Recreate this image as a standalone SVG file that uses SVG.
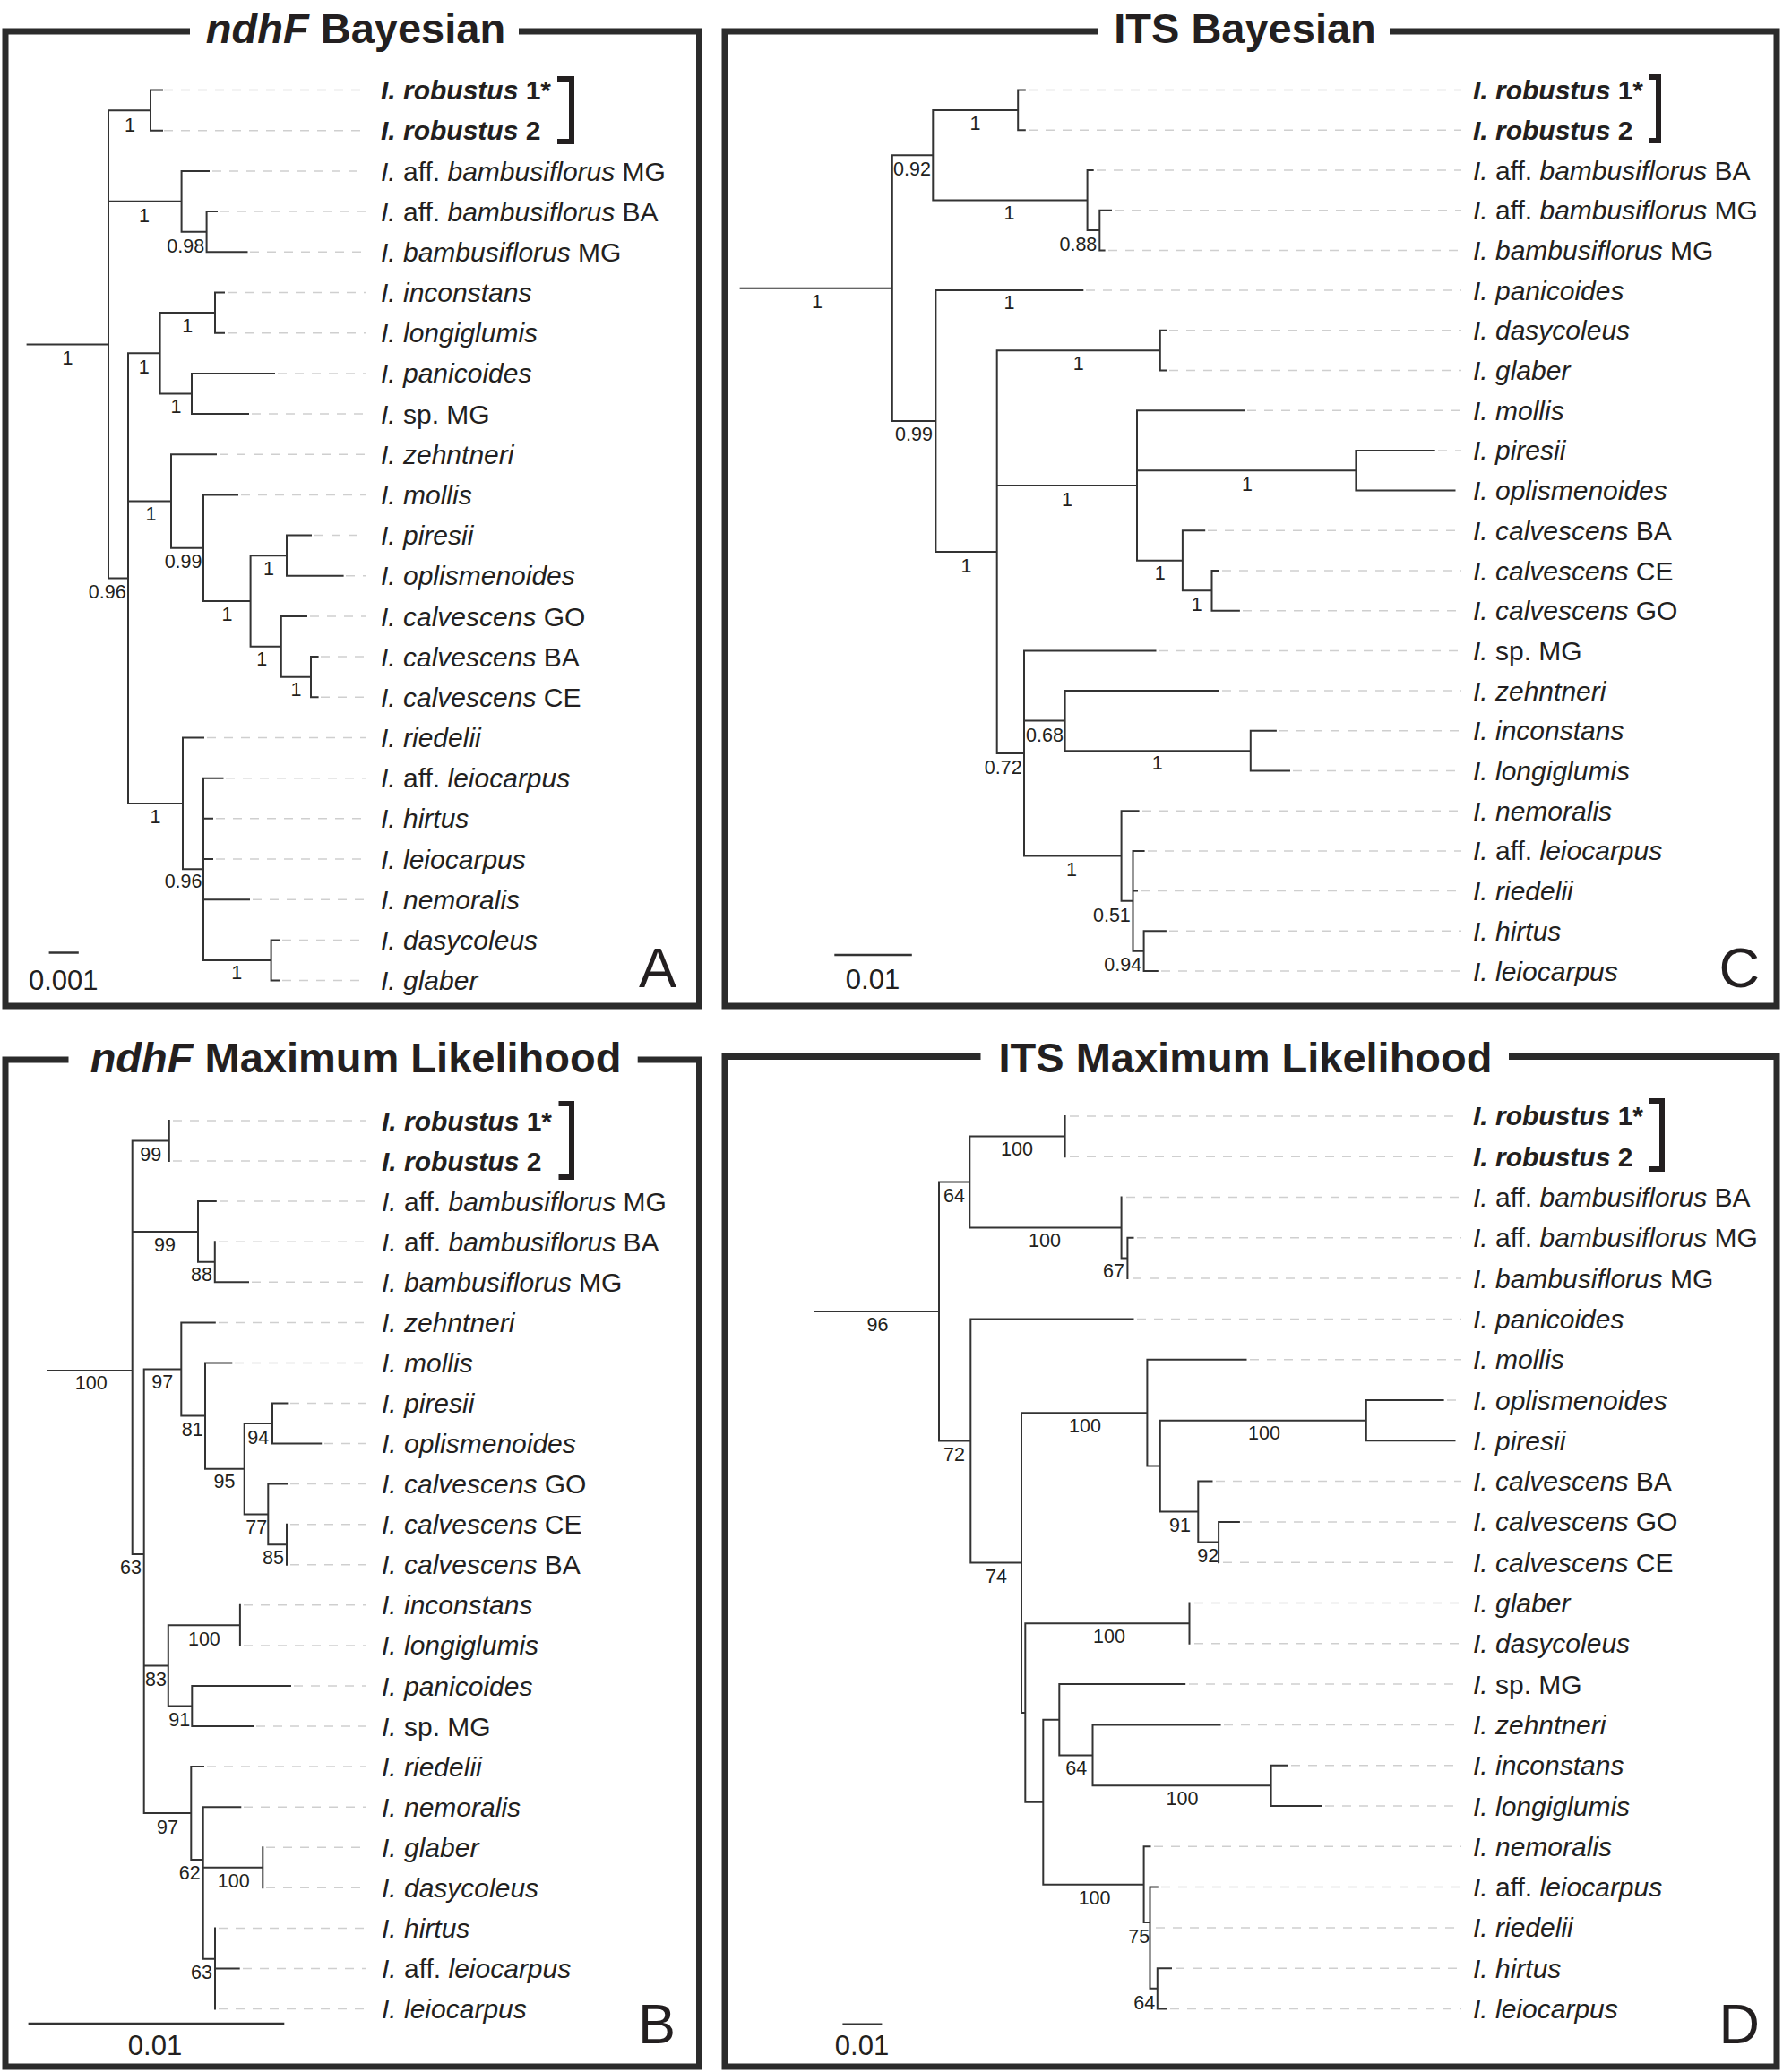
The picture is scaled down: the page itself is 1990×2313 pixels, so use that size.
<svg xmlns="http://www.w3.org/2000/svg" width="1990" height="2313" viewBox="0 0 1990 2313">
<style>
text { font-family: "Liberation Sans", Arial, Helvetica, sans-serif; fill: #231f20; }
.ttl { font-size: 47px; font-weight: bold; text-anchor: middle; }
.lb { font-size: 30px; }
.b { font-weight: bold; }
.i { font-style: italic; }
.sp { font-size: 21.5px; text-anchor: middle; }
.sc { font-size: 31px; text-anchor: middle; }
.let { font-size: 63px; text-anchor: middle; }
.frame { fill: none; stroke: #2b2b2b; stroke-width: 7; stroke-linejoin: miter; }
.br { fill: none; stroke: #231f20; stroke-width: 6; }
.tree { fill: none; stroke: #333; stroke-width: 2; stroke-linecap: square; }
.lead { fill: none; stroke: #cfcfcf; stroke-width: 1.5; stroke-dasharray: 10 9; }
.bar { fill: none; stroke: #333; stroke-width: 2.5; }
</style>
<rect x="0" y="0" width="1990" height="2313" fill="#fff"/>

<!-- ================= PANEL A ================= -->
<g id="panelA">
<path class="frame" d="M212,35 H6 V1123 H780.5 V35 H579"/>
<text class="ttl" x="397" y="48"><tspan class="i">ndhF</tspan> Bayesian</text>
<g id="A-connectors">
<path class="lead" d="M183,100.6H408M183,145.8H408M237,191H408M246,236.1H408M279,281.3H408M254,326.5H408M254,371.7H408M310,416.9H408M281,462H408M245,507.2H408M269,552.4H408M351,597.6H408M386,642.8H408M346,688H408M358,733.1H408M358,778.3H408M231,823.5H408M252,868.7H408M241,913.8H408M241,959H408M282,1004.2H408M315,1049.4H408M315,1094.6H408"/>
<path class="tree" d="M30.6,384.4H121M121,123.2V645.6
M121,123.2H168M168,100.6V145.8M168,100.6H181M168,145.8H181
M121,224.85H202.6M202.6,191V258.7M202.6,191H233M202.6,258.7H230.6M230.6,236.1V281.3M230.6,236.1H242M230.6,281.3H275.5
M121,645.6H143M143,394.3V896.9
M143,394.3H178.6M178.6,349.1V439.45M178.6,349.1H240M240,326.5V371.7M240,326.5H250M240,371.7H250M178.6,439.45H214M214,416.9V462M214,416.9H306M214,462H277
M143,559.45H191M191,507.2V611.7M191,507.2H241M191,611.7H227M227,552.4V671M227,552.4H265M227,671H279.6M279.6,620.2V721.85M279.6,620.2H320M320,597.6V642.8M320,597.6H347M320,642.8H382.6M279.6,721.85H313.8M313.8,688V755.7M313.8,688H342M313.8,755.7H347M347,733.1V778.3M347,733.1H354.6M347,778.3H354.6
M143,896.9H204M204,823.5V970.35M204,823.5H227M204,970.35H227M227,868.7V1072M227,868.7H248.5M227,913.8H237M227,959H237M227,1004.2H278M227,1072H302.6M302.6,1049.4V1094.6M302.6,1049.4H311M302.6,1094.6H311"/>
</g>
<g id="A-support">
<text class="sp" x="75.5" y="406.5">1</text>
<text class="sp" x="145" y="146.7">1</text>
<text class="sp" x="161" y="247.7">1</text>
<text class="sp" x="207.3" y="281.7">0.98</text>
<text class="sp" x="119.8" y="667.7">0.96</text>
<text class="sp" x="209.2" y="371">1</text>
<text class="sp" x="160.7" y="416.5">1</text>
<text class="sp" x="196.4" y="460.9">1</text>
<text class="sp" x="168.4" y="580.7">1</text>
<text class="sp" x="204.6" y="634.2">0.99</text>
<text class="sp" x="253.6" y="693.1">1</text>
<text class="sp" x="300" y="642.2">1</text>
<text class="sp" x="292.3" y="743.3">1</text>
<text class="sp" x="330.6" y="776.7">1</text>
<text class="sp" x="173.5" y="918.7">1</text>
<text class="sp" x="204.6" y="991.2">0.96</text>
<text class="sp" x="264.3" y="1092.7">1</text>
</g>
<g id="A-t0"><text class="lb b" x="425" y="111.1"><tspan class="i">I. robustus</tspan> 1*</text></g>
<g id="A-t1"><text class="lb b" x="425" y="156.3"><tspan class="i">I. robustus</tspan> 2</text></g>
<g id="A-t2"><text class="lb" x="425" y="201.5"><tspan class="i">I.</tspan> aff. <tspan class="i">bambusiflorus</tspan> MG</text></g>
<g id="A-t3"><text class="lb" x="425" y="246.6"><tspan class="i">I.</tspan> aff. <tspan class="i">bambusiflorus</tspan> BA</text></g>
<g id="A-t4"><text class="lb" x="425" y="291.8"><tspan class="i">I. bambusiflorus</tspan> MG</text></g>
<g id="A-t5"><text class="lb i" x="425" y="337">I. inconstans</text></g>
<g id="A-t6"><text class="lb i" x="425" y="382.2">I. longiglumis</text></g>
<g id="A-t7"><text class="lb i" x="425" y="427.4">I. panicoides</text></g>
<g id="A-t8"><text class="lb" x="425" y="472.5"><tspan class="i">I.</tspan> sp. MG</text></g>
<g id="A-t9"><text class="lb i" x="425" y="517.7">I. zehntneri</text></g>
<g id="A-t10"><text class="lb i" x="425" y="562.9">I. mollis</text></g>
<g id="A-t11"><text class="lb i" x="425" y="608.1">I. piresii</text></g>
<g id="A-t12"><text class="lb i" x="425" y="653.3">I. oplismenoides</text></g>
<g id="A-t13"><text class="lb" x="425" y="698.5"><tspan class="i">I. calvescens</tspan> GO</text></g>
<g id="A-t14"><text class="lb" x="425" y="743.6"><tspan class="i">I. calvescens</tspan> BA</text></g>
<g id="A-t15"><text class="lb" x="425" y="788.8"><tspan class="i">I. calvescens</tspan> CE</text></g>
<g id="A-t16"><text class="lb i" x="425" y="834">I. riedelii</text></g>
<g id="A-t17"><text class="lb" x="425" y="879.2"><tspan class="i">I.</tspan> aff. <tspan class="i">leiocarpus</tspan></text></g>
<g id="A-t18"><text class="lb i" x="425" y="924.3">I. hirtus</text></g>
<g id="A-t19"><text class="lb i" x="425" y="969.5">I. leiocarpus</text></g>
<g id="A-t20"><text class="lb i" x="425" y="1014.7">I. nemoralis</text></g>
<g id="A-t21"><text class="lb i" x="425" y="1059.9">I. dasycoleus</text></g>
<g id="A-t22"><text class="lb i" x="425" y="1105.1">I. glaber</text></g>
<path class="br" d="M622,88H638V158H622"/>
<path class="bar" d="M54.6,1063.5H87.8"/>
<text class="sc" x="70.8" y="1105">0.001</text>
<text class="let" x="734" y="1101.6">A</text>
</g>

<!-- ================= PANEL C ================= -->
<g id="panelC">
<path class="frame" d="M1225,35 H809 V1123 H1983 V35 H1551"/>
<text class="ttl" x="1389.5" y="48">ITS Bayesian</text>
<g id="C-connectors">
<path class="lead" d="M1148,100.6H1631M1148,145.3H1631M1224,190H1631M1244,234.7H1631M1237,279.4H1631M1212,324.1H1631M1305,368.8H1631M1305,413.5H1631M1392,458.2H1631M1605,502.9H1631M1348,592.3H1631M1364,637H1631M1387,681.7H1631M1294,726.4H1631M1364,771.1H1631M1428,815.8H1631M1443,860.5H1631M1275,905.2H1631M1281,949.9H1631M1273,994.6H1631M1305,1039.3H1631M1296,1084H1631"/>
<path class="tree" d="M826.6,321.65H995.8M995.8,173.2V470.1
M995.8,173.2H1041.3M1041.3,122.95V223.5M1041.3,122.95H1136.2M1136.2,100.6V145.3M1136.2,100.6H1143.8M1136.2,145.3H1143.8M1041.3,223.5H1213.6M1213.6,190V257.05M1213.6,190H1219.7M1213.6,257.05H1227.3M1227.3,234.7V279.4M1227.3,234.7H1240M1227.3,279.4H1232.6
M995.8,470.1H1044.4M1044.4,324.1V616.05M1044.4,324.1H1208.3M1044.4,616.05H1112.7M1112.7,391.15V840.95
M1112.7,391.15H1294.8M1294.8,368.8V413.5M1294.8,368.8H1301M1294.8,413.5H1301
M1112.7,542H1269M1269,458.2V625.8M1269,458.2H1388M1269,525.25H1513.4M1513.4,502.9V547.6M1513.4,502.9H1600.7M1513.4,547.6H1623.5M1269,625.8H1319.9M1319.9,592.3V659.35M1319.9,592.3H1344.2M1319.9,659.35H1352.5M1352.5,637V681.7M1352.5,637H1360M1352.5,681.7H1382.9
M1112.7,840.95H1143M1143,726.4V955.5M1143,726.4H1289.5M1143,804.6H1188.6M1188.6,771.1V838.15M1188.6,771.1H1360M1188.6,838.15H1395.8M1395.8,815.8V860.5M1395.8,815.8H1423.9M1395.8,860.5H1439M1143,955.5H1251.6M1251.6,905.2V1005.8M1251.6,905.2H1270.6M1251.6,1005.8H1264.5M1264.5,949.9V1061.65M1264.5,949.9H1276.6M1264.5,994.6H1269M1264.5,1061.65H1276.6M1276.6,1039.3V1084M1276.6,1039.3H1300.9M1276.6,1084H1291.8"/>
</g>
<g id="C-support">
<text class="sp" x="912" y="344.4">1</text>
<text class="sp" x="1018" y="195.7">0.92</text>
<text class="sp" x="1020" y="492.3">0.99</text>
<text class="sp" x="1088.4" y="145.3">1</text>
<text class="sp" x="1126.4" y="244.5">1</text>
<text class="sp" x="1203.4" y="280.4">0.88</text>
<text class="sp" x="1126.4" y="345.1">1</text>
<text class="sp" x="1078.5" y="638.6">1</text>
<text class="sp" x="1203.8" y="412.7">1</text>
<text class="sp" x="1190.9" y="564.5">1</text>
<text class="sp" x="1392" y="547.7">1</text>
<text class="sp" x="1294.8" y="646.7">1</text>
<text class="sp" x="1335.8" y="682.2">1</text>
<text class="sp" x="1119.8" y="863.7">0.72</text>
<text class="sp" x="1166" y="827.7">0.68</text>
<text class="sp" x="1291.8" y="858.5">1</text>
<text class="sp" x="1196" y="977.7">1</text>
<text class="sp" x="1240.9" y="1029.3">0.51</text>
<text class="sp" x="1253.3" y="1083.7">0.94</text>
</g>
<g id="C-t0"><text class="lb b" x="1644" y="111.1"><tspan class="i">I. robustus</tspan> 1*</text></g>
<g id="C-t1"><text class="lb b" x="1644" y="155.8"><tspan class="i">I. robustus</tspan> 2</text></g>
<g id="C-t2"><text class="lb" x="1644" y="200.5"><tspan class="i">I.</tspan> aff. <tspan class="i">bambusiflorus</tspan> BA</text></g>
<g id="C-t3"><text class="lb" x="1644" y="245.2"><tspan class="i">I.</tspan> aff. <tspan class="i">bambusiflorus</tspan> MG</text></g>
<g id="C-t4"><text class="lb" x="1644" y="289.9"><tspan class="i">I. bambusiflorus</tspan> MG</text></g>
<g id="C-t5"><text class="lb i" x="1644" y="334.6">I. panicoides</text></g>
<g id="C-t6"><text class="lb i" x="1644" y="379.3">I. dasycoleus</text></g>
<g id="C-t7"><text class="lb i" x="1644" y="424">I. glaber</text></g>
<g id="C-t8"><text class="lb i" x="1644" y="468.7">I. mollis</text></g>
<g id="C-t9"><text class="lb i" x="1644" y="513.4">I. piresii</text></g>
<g id="C-t10"><text class="lb i" x="1644" y="558.1">I. oplismenoides</text></g>
<g id="C-t11"><text class="lb" x="1644" y="602.8"><tspan class="i">I. calvescens</tspan> BA</text></g>
<g id="C-t12"><text class="lb" x="1644" y="647.5"><tspan class="i">I. calvescens</tspan> CE</text></g>
<g id="C-t13"><text class="lb" x="1644" y="692.2"><tspan class="i">I. calvescens</tspan> GO</text></g>
<g id="C-t14"><text class="lb" x="1644" y="736.9"><tspan class="i">I.</tspan> sp. MG</text></g>
<g id="C-t15"><text class="lb i" x="1644" y="781.6">I. zehntneri</text></g>
<g id="C-t16"><text class="lb i" x="1644" y="826.3">I. inconstans</text></g>
<g id="C-t17"><text class="lb i" x="1644" y="871">I. longiglumis</text></g>
<g id="C-t18"><text class="lb i" x="1644" y="915.7">I. nemoralis</text></g>
<g id="C-t19"><text class="lb" x="1644" y="960.4"><tspan class="i">I.</tspan> aff. <tspan class="i">leiocarpus</tspan></text></g>
<g id="C-t20"><text class="lb i" x="1644" y="1005.1">I. riedelii</text></g>
<g id="C-t21"><text class="lb i" x="1644" y="1049.8">I. hirtus</text></g>
<g id="C-t22"><text class="lb i" x="1644" y="1094.5">I. leiocarpus</text></g>
<path class="br" d="M1840,86H1851V157H1840"/>
<path class="bar" d="M931.3,1066H1017.8"/>
<text class="sc" x="974" y="1103.5">0.01</text>
<text class="let" x="1941.3" y="1101.6">C</text>
</g>

<!-- ================= PANEL B ================= -->
<g id="panelB">
<path class="frame" d="M76.5,1183 H6 V2307 H780.5 V1183 H711.7"/>
<text class="ttl" x="397" y="1197"><tspan class="i">ndhF</tspan> Maximum Likelihood</text>
<g id="B-connectors">
<path class="lead" d="M193,1251H408M193,1296.1H408M245,1341.1H408M244,1386.2H408M281,1431.3H408M244,1476.4H408M262,1521.4H408M324,1566.5H408M362,1611.6H408M324,1656.6H408M324,1701.7H408M324,1746.8H408M272,1791.8H408M272,1836.9H408M328,1882H408M286,1927.1H408M231,1972.1H408M272,2017.2H408M297,2062.3H408M297,2107.3H408M244,2152.4H408M271,2197.5H408M244,2242.5H408"/>
<path class="tree" d="M53.3,1530H147.7M147.7,1273.55V1735
M147.7,1273.55H188.8M188.8,1251V1296.1
M147.7,1374.9H221M221,1341.1V1408.75M221,1341.1H240.8M221,1408.75H239.8M239.8,1386.2V1431.3M239.8,1431.3H277
M147.7,1735H160.7M160.7,1528.5V2024.05
M160.7,1528.5H202.3M202.3,1476.4V1580.6M202.3,1476.4H239.8M202.3,1580.6H229M229,1521.4V1639.7M229,1521.4H258.3M229,1639.7H272.7M272.7,1589.05V1690.4M272.7,1589.05H304M304,1566.5V1611.6M304,1566.5H320.4M304,1611.6H358.2M272.7,1690.4H299.3M299.3,1656.6V1724.25M299.3,1656.6H320M299.3,1724.25H320M320,1701.7V1746.8
M160.7,1859.45H187.8M187.8,1814.35V1904.55M187.8,1814.35H267.9M267.9,1791.8V1836.9M187.8,1904.55H214.3M214.3,1882V1927.1M214.3,1882H324M214.3,1927.1H282
M160.7,2024.05H213.3M213.3,1972.1V2076M213.3,1972.1H227M213.3,2076H226.7M226.7,2017.2V2186.7M226.7,2017.2H268.3M226.7,2084.8H293.3M293.3,2062.3V2107.3M226.7,2186.7H240M240,2152.4V2242.5M240,2197.5H266.7"/>
</g>
<g id="B-support">
<text class="sp" x="101.7" y="1551">100</text>
<text class="sp" x="168.3" y="1295.7">99</text>
<text class="sp" x="184" y="1397.3">99</text>
<text class="sp" x="225" y="1430.4">88</text>
<text class="sp" x="146" y="1757">63</text>
<text class="sp" x="181.3" y="1550.4">97</text>
<text class="sp" x="214.7" y="1602.7">81</text>
<text class="sp" x="250.5" y="1661">95</text>
<text class="sp" x="288.3" y="1611.7">94</text>
<text class="sp" x="286.3" y="1711.7">77</text>
<text class="sp" x="305" y="1746">85</text>
<text class="sp" x="227.9" y="1836.7">100</text>
<text class="sp" x="174" y="1881.7">83</text>
<text class="sp" x="200.2" y="1926.7">91</text>
<text class="sp" x="187" y="2046.7">97</text>
<text class="sp" x="211.7" y="2097.7">62</text>
<text class="sp" x="260.8" y="2107">100</text>
<text class="sp" x="225" y="2209.4">63</text>
</g>
<g id="B-t0"><text class="lb b" x="426" y="1261.5"><tspan class="i">I. robustus</tspan> 1*</text></g>
<g id="B-t1"><text class="lb b" x="426" y="1306.6"><tspan class="i">I. robustus</tspan> 2</text></g>
<g id="B-t2"><text class="lb" x="426" y="1351.6"><tspan class="i">I.</tspan> aff. <tspan class="i">bambusiflorus</tspan> MG</text></g>
<g id="B-t3"><text class="lb" x="426" y="1396.7"><tspan class="i">I.</tspan> aff. <tspan class="i">bambusiflorus</tspan> BA</text></g>
<g id="B-t4"><text class="lb" x="426" y="1441.8"><tspan class="i">I. bambusiflorus</tspan> MG</text></g>
<g id="B-t5"><text class="lb i" x="426" y="1486.9">I. zehntneri</text></g>
<g id="B-t6"><text class="lb i" x="426" y="1531.9">I. mollis</text></g>
<g id="B-t7"><text class="lb i" x="426" y="1577">I. piresii</text></g>
<g id="B-t8"><text class="lb i" x="426" y="1622.1">I. oplismenoides</text></g>
<g id="B-t9"><text class="lb" x="426" y="1667.1"><tspan class="i">I. calvescens</tspan> GO</text></g>
<g id="B-t10"><text class="lb" x="426" y="1712.2"><tspan class="i">I. calvescens</tspan> CE</text></g>
<g id="B-t11"><text class="lb" x="426" y="1757.3"><tspan class="i">I. calvescens</tspan> BA</text></g>
<g id="B-t12"><text class="lb i" x="426" y="1802.3">I. inconstans</text></g>
<g id="B-t13"><text class="lb i" x="426" y="1847.4">I. longiglumis</text></g>
<g id="B-t14"><text class="lb i" x="426" y="1892.5">I. panicoides</text></g>
<g id="B-t15"><text class="lb" x="426" y="1937.6"><tspan class="i">I.</tspan> sp. MG</text></g>
<g id="B-t16"><text class="lb i" x="426" y="1982.6">I. riedelii</text></g>
<g id="B-t17"><text class="lb i" x="426" y="2027.7">I. nemoralis</text></g>
<g id="B-t18"><text class="lb i" x="426" y="2072.8">I. glaber</text></g>
<g id="B-t19"><text class="lb i" x="426" y="2117.8">I. dasycoleus</text></g>
<g id="B-t20"><text class="lb i" x="426" y="2162.9">I. hirtus</text></g>
<g id="B-t21"><text class="lb" x="426" y="2208"><tspan class="i">I.</tspan> aff. <tspan class="i">leiocarpus</tspan></text></g>
<g id="B-t22"><text class="lb i" x="426" y="2253">I. leiocarpus</text></g>
<path class="br" d="M623.5,1232H638V1314H623.5"/>
<path class="bar" d="M31.6,2259H317.3"/>
<text class="sc" x="173" y="2294">0.01</text>
<text class="let" x="733" y="2280.5">B</text>
</g>

<!-- ================= PANEL D ================= -->
<g id="panelD">
<path class="frame" d="M1094.5,1179.5 H809 V2307 H1983 V1179.5 H1684"/>
<text class="ttl" x="1390" y="1197">ITS Maximum Likelihood</text>
<g id="D-connectors">
<path class="lead" d="M1194,1245.9H1631M1194,1291.2H1631M1257,1336.5H1631M1269,1381.8H1631M1264,1427.1H1631M1269,1472.4H1631M1395,1517.7H1631M1615,1563H1631M1357,1653.6H1631M1387,1698.9H1631M1365,1744.2H1631M1333,1789.5H1631M1333,1834.8H1631M1327,1880.1H1631M1366,1925.4H1631M1441,1970.7H1631M1479,2016H1631M1288,2061.3H1631M1296,2106.6H1631M1290,2151.9H1631M1312,2197.2H1631M1306,2242.5H1631"/>
<path class="tree" d="M910,1464H1048M1048,1319.5V1608.45
M1048,1319.5H1082.3M1082.3,1268.55V1370.5M1082.3,1268.55H1188.6M1188.6,1245.9V1291.2M1082.3,1370.5H1251.6M1251.6,1336.5V1404.45M1251.6,1404.45H1258.4M1258.4,1381.8V1427.1M1258.4,1381.8H1264.5
M1048,1608.45H1083.3M1083.3,1472.4V1744.5M1083.3,1472.4H1264.5M1083.3,1744.5H1140M1140,1577.15V1911.9
M1140,1577.15H1280.4M1280.4,1517.7V1636.6M1280.4,1517.7H1390.5M1280.4,1636.6H1294.8M1294.8,1585.65V1687.6M1294.8,1585.65H1524.8M1524.8,1563V1608.3M1524.8,1563H1610.6M1524.8,1608.3H1623.5M1294.8,1687.6H1337.3M1337.3,1653.6V1721.55M1337.3,1653.6H1352.5M1337.3,1721.55H1360.1M1360.1,1698.9V1744.2M1360.1,1698.9H1382.9
M1140,1911.9H1144.3M1144.3,1812.15V2011.7M1144.3,1812.15H1327.5M1327.5,1789.5V1834.8M1144.3,2011.7H1164.3M1164.3,1919.75V2103.65
M1164.3,1919.75H1182.3M1182.3,1880.1V1959.4M1182.3,1880.1H1322.2M1182.3,1959.4H1219.5M1219.5,1925.4V1993.35M1219.5,1925.4H1361.6M1219.5,1993.35H1418.6M1418.6,1970.7V2016M1418.6,1970.7H1436M1418.6,2016H1474
M1164.3,2103.65H1276.6M1276.6,2061.3V2146M1276.6,2061.3H1283.5M1276.6,2146H1283.5M1283.5,2106.6V2219.85M1283.5,2106.6H1291.8M1283.5,2219.85H1291.8M1291.8,2197.2V2242.5M1291.8,2197.2H1307M1291.8,2242.5H1301"/>
</g>
<g id="D-support">
<text class="sp" x="979.5" y="1485.7">96</text>
<text class="sp" x="1064.9" y="1342">64</text>
<text class="sp" x="1064.9" y="1630.6">72</text>
<text class="sp" x="1135" y="1290.1">100</text>
<text class="sp" x="1166" y="1391.7">100</text>
<text class="sp" x="1243" y="1425.5">67</text>
<text class="sp" x="1211" y="1598.6">100</text>
<text class="sp" x="1411" y="1607.2">100</text>
<text class="sp" x="1316.9" y="1709.6">91</text>
<text class="sp" x="1348.3" y="1744.1">92</text>
<text class="sp" x="1112" y="1766.7">74</text>
<text class="sp" x="1238" y="1833.6">100</text>
<text class="sp" x="1201.3" y="1981.3">64</text>
<text class="sp" x="1319.5" y="2014.6">100</text>
<text class="sp" x="1221.6" y="2126">100</text>
<text class="sp" x="1271.3" y="2169">75</text>
<text class="sp" x="1277.3" y="2242.5">64</text>
</g>
<g id="D-t0"><text class="lb b" x="1644" y="1256.4"><tspan class="i">I. robustus</tspan> 1*</text></g>
<g id="D-t1"><text class="lb b" x="1644" y="1301.7"><tspan class="i">I. robustus</tspan> 2</text></g>
<g id="D-t2"><text class="lb" x="1644" y="1347"><tspan class="i">I.</tspan> aff. <tspan class="i">bambusiflorus</tspan> BA</text></g>
<g id="D-t3"><text class="lb" x="1644" y="1392.3"><tspan class="i">I.</tspan> aff. <tspan class="i">bambusiflorus</tspan> MG</text></g>
<g id="D-t4"><text class="lb" x="1644" y="1437.6"><tspan class="i">I. bambusiflorus</tspan> MG</text></g>
<g id="D-t5"><text class="lb i" x="1644" y="1482.9">I. panicoides</text></g>
<g id="D-t6"><text class="lb i" x="1644" y="1528.2">I. mollis</text></g>
<g id="D-t7"><text class="lb i" x="1644" y="1573.5">I. oplismenoides</text></g>
<g id="D-t8"><text class="lb i" x="1644" y="1618.8">I. piresii</text></g>
<g id="D-t9"><text class="lb" x="1644" y="1664.1"><tspan class="i">I. calvescens</tspan> BA</text></g>
<g id="D-t10"><text class="lb" x="1644" y="1709.4"><tspan class="i">I. calvescens</tspan> GO</text></g>
<g id="D-t11"><text class="lb" x="1644" y="1754.7"><tspan class="i">I. calvescens</tspan> CE</text></g>
<g id="D-t12"><text class="lb i" x="1644" y="1800">I. glaber</text></g>
<g id="D-t13"><text class="lb i" x="1644" y="1845.3">I. dasycoleus</text></g>
<g id="D-t14"><text class="lb" x="1644" y="1890.6"><tspan class="i">I.</tspan> sp. MG</text></g>
<g id="D-t15"><text class="lb i" x="1644" y="1935.9">I. zehntneri</text></g>
<g id="D-t16"><text class="lb i" x="1644" y="1981.2">I. inconstans</text></g>
<g id="D-t17"><text class="lb i" x="1644" y="2026.5">I. longiglumis</text></g>
<g id="D-t18"><text class="lb i" x="1644" y="2071.8">I. nemoralis</text></g>
<g id="D-t19"><text class="lb" x="1644" y="2117.1"><tspan class="i">I.</tspan> aff. <tspan class="i">leiocarpus</tspan></text></g>
<g id="D-t20"><text class="lb i" x="1644" y="2162.4">I. riedelii</text></g>
<g id="D-t21"><text class="lb i" x="1644" y="2207.7">I. hirtus</text></g>
<g id="D-t22"><text class="lb i" x="1644" y="2253">I. leiocarpus</text></g>
<path class="br" d="M1841,1229H1855V1305H1841"/>
<path class="bar" d="M940.4,2259.8H984.4"/>
<text class="sc" x="962" y="2294">0.01</text>
<text class="let" x="1941.3" y="2280.5">D</text>
</g>
</svg>
